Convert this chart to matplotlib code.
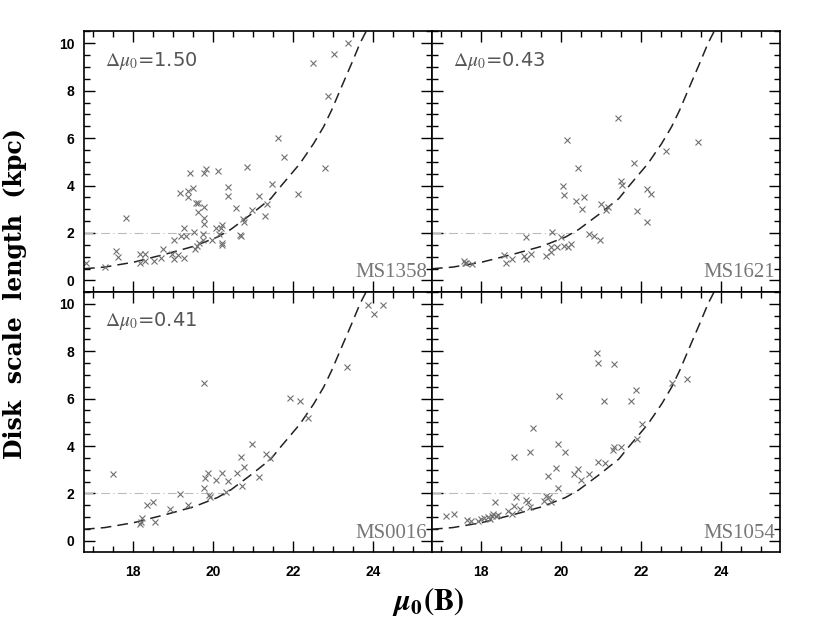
import numpy as np
import matplotlib
matplotlib.use("Agg")
import matplotlib.pyplot as plt
from matplotlib.ticker import MultipleLocator

# ---------------------------
# Data: mu_0(B) vs disk scale length (kpc)
names = ["MS1358", "MS1621", "MS0016", "MS1054"]
deltas = ["1.50", "0.43", "0.41", None]

mu_1358 = [16.83, 17.30, 17.58, 17.62, 17.83, 18.17, 18.31, 18.17, 18.31, 18.53,
           18.75, 18.70, 18.98, 19.02, 19.02, 19.12, 19.27, 19.28, 19.20, 19.33,
           19.18, 19.42, 19.39, 19.39, 19.51, 19.53, 19.59, 19.64, 19.64, 19.56,
           19.60, 19.66, 19.77, 19.82, 19.79, 19.79, 19.79, 19.75, 19.76, 19.99,
           20.12, 20.07, 20.20, 20.23, 20.16, 20.22, 20.23, 20.37, 20.37, 20.57,
           20.68, 20.70, 20.75, 20.77, 20.86, 20.97, 21.15, 21.31, 21.36, 21.48,
           21.79, 22.12, 21.62, 22.50, 23.02, 22.87, 22.81, 23.38]
h_1358 = [0.72, 0.56, 1.24, 1.00, 2.63, 1.13, 1.11, 0.73, 0.80, 0.82,
          1.31, 0.96, 1.10, 0.90, 1.69, 1.06, 0.96, 2.20, 1.88, 1.88,
          3.70, 4.51, 3.76, 3.51, 3.89, 2.03, 3.28, 2.88, 3.28, 1.34,
          1.47, 1.59, 4.51, 4.68, 3.10, 2.63, 2.36, 1.97, 1.69, 1.69,
          4.63, 2.20, 2.19, 2.33, 1.97, 1.58, 1.51, 3.92, 3.56, 3.07,
          1.93, 1.86, 2.57, 2.45, 4.79, 2.96, 3.56, 2.71, 3.24, 4.08,
          5.21, 3.66, 6.01, 9.19, 9.55, 7.79, 4.76, 10.0]

mu_1621 = [17.58, 17.64, 17.60, 17.78, 18.57, 18.62, 18.77, 19.07, 19.13, 19.13,
           19.25, 19.62, 19.75, 19.78, 19.75, 19.90, 20.01, 20.06, 20.09, 20.08,
           20.15, 20.19, 20.26, 20.37, 20.42, 20.52, 20.57, 20.71, 20.83, 20.97,
           21.00, 21.13, 21.18, 21.42, 21.50, 21.52, 21.84, 21.91, 22.16, 22.26,
           22.16, 22.64, 23.43]
h_1621 = [0.80, 0.75, 0.72, 0.68, 1.06, 0.75, 0.89, 1.01, 0.90, 1.83,
          1.11, 1.04, 1.18, 2.06, 1.41, 1.41, 1.83, 3.99, 3.62, 1.45,
          5.94, 1.41, 1.55, 3.34, 4.76, 3.02, 3.52, 1.97, 1.86, 1.69,
          3.22, 2.98, 3.10, 6.87, 4.20, 4.01, 4.97, 2.94, 3.86, 3.63,
          2.47, 5.46, 5.84]

mu_0016 = [17.50, 18.19, 18.24, 18.20, 18.35, 18.51, 18.55, 18.92, 19.17, 19.37,
           19.77, 19.81, 19.87, 19.91, 19.93, 20.09, 20.22, 20.38, 20.32, 20.61,
           20.70, 20.74, 20.79, 20.97, 21.16, 21.33, 21.42, 19.77, 21.93, 22.18,
           22.37, 23.35, 23.89, 24.03, 24.25]
h_0016 = [2.82, 0.73, 0.96, 0.81, 1.51, 1.62, 0.81, 1.34, 1.97, 1.53,
          2.25, 2.65, 2.85, 1.92, 1.86, 2.58, 2.85, 2.52, 2.08, 2.87,
          3.52, 2.30, 3.13, 4.08, 2.70, 3.66, 3.48, 6.66, 6.01, 5.88,
          5.18, 7.32, 9.96, 9.58, 9.93]

mu_1054 = [17.12, 17.32, 17.66, 17.76, 17.93, 18.00, 18.07, 18.17, 18.22, 18.27,
           18.31, 18.37, 18.42, 18.35, 18.67, 18.78, 18.82, 18.87, 18.97, 19.12,
           19.17, 19.22, 19.30, 18.82, 19.22, 19.58, 19.64, 19.70, 19.75, 19.69,
           19.88, 19.92, 19.92, 19.95, 20.10, 20.32, 20.42, 20.51, 20.71, 20.93,
           21.10, 21.07, 21.31, 21.33, 21.51, 21.75, 21.88, 21.90, 22.03, 20.90,
           20.92, 21.33, 22.79, 23.16]
h_1054 = [1.06, 1.13, 0.87, 0.82, 0.82, 0.91, 0.96, 1.01, 0.91, 1.06,
          1.13, 1.06, 1.08, 1.66, 1.27, 1.13, 1.48, 1.83, 1.34, 1.72,
          1.66, 1.41, 4.76, 3.55, 3.74, 1.69, 1.90, 1.83, 1.62, 2.75,
          3.07, 4.08, 2.22, 6.13, 3.74, 2.82, 3.03, 2.58, 2.82, 3.31,
          3.28, 5.91, 3.84, 3.97, 3.97, 5.89, 6.37, 4.30, 4.93, 7.93,
          7.52, 7.45, 6.68, 6.84]

mu_all = [mu_1358, mu_1621, mu_0016, mu_1054]
h_all = [h_1358, h_1621, h_0016, h_1054]

# dashed model curve
mu_curve = [16.78, 17.30, 18.03, 18.87, 19.53, 20.12, 20.45, 20.95, 21.45, 21.72,
            22.18, 22.52, 22.77, 22.97, 23.22, 23.47, 23.68, 23.85]
h_curve = [0.49, 0.56, 0.77, 1.13, 1.44, 1.83, 2.15, 2.78, 3.45, 4.01,
           4.93, 5.77, 6.48, 7.18, 8.17, 9.15, 10.0, 10.56]

# horizontal dot-dash line at h = 2 kpc
mu_hline = [16.78, 20.35]
h_hline = [2.0, 2.0]

# ---------------------------
plt.rcParams['mathtext.fontset'] = 'stix'
plt.rcParams['font.family'] = 'Liberation Sans'

fig, axes = plt.subplots(2, 2, figsize=(8.3, 6.21), dpi=100, sharex=True, sharey=True)
fig.subplots_adjust(left=84/830, right=780/830, bottom=1-552/621, top=1-31/621,
                    wspace=0, hspace=0)

for k, ax in enumerate(axes.flat):
    ax.plot(mu_hline, h_hline, color='#bbbbbb', lw=0.8, ls=(0, (8, 3, 1, 3)))
    ax.plot(mu_curve, h_curve, color='#222222', lw=1.1, ls=(0, (7, 4)))
    ax.plot(mu_all[k], h_all[k], ls='none', marker='x', ms=5, mew=0.8, color='#707070')

    ax.set_xlim(16.78, 25.48)
    ax.set_ylim(-0.47, 10.52)
    ax.xaxis.set_major_locator(MultipleLocator(2))
    ax.xaxis.set_minor_locator(MultipleLocator(0.5))
    ax.yaxis.set_major_locator(MultipleLocator(2))
    ax.yaxis.set_minor_locator(MultipleLocator(0.5))
    ax.tick_params(which='both', direction='in', top=True, right=True, width=1)
    ax.tick_params(which='major', length=8)
    ax.tick_params(which='minor', length=4.5)
    ax.tick_params(axis='y', pad=7)
    ax.tick_params(axis='x', pad=9)
    for lab in ax.get_xticklabels() + ax.get_yticklabels():
        lab.set_fontweight('bold')
        lab.set_fontsize(10)
    for s in ax.spines.values():
        s.set_linewidth(1.2)

    if deltas[k] is not None:
        ax.text(0.06, 0.885, r'$\Delta\mu_0$=' + deltas[k], transform=ax.transAxes,
                fontsize=14, color='#555555', va='center', ha='left',
                family='DejaVu Sans')
    ax.text(0.985, 0.035, names[k], transform=ax.transAxes, fontsize=15,
            color='#777777', ha='right', va='bottom', family='Liberation Serif')

fig.text(0.018, 0.527, 'Disk  scale  length  (kpc)', rotation=90, fontsize=17,
         fontweight='bold', family='DejaVu Serif', ha='center', va='center')
fig.text(0.516, 0.032, r'$\boldsymbol{\mu}_\mathbf{0}\mathbf{(B)}$', fontsize=22,
         ha='center', va='center')

fig.savefig("out.png", dpi=100)
